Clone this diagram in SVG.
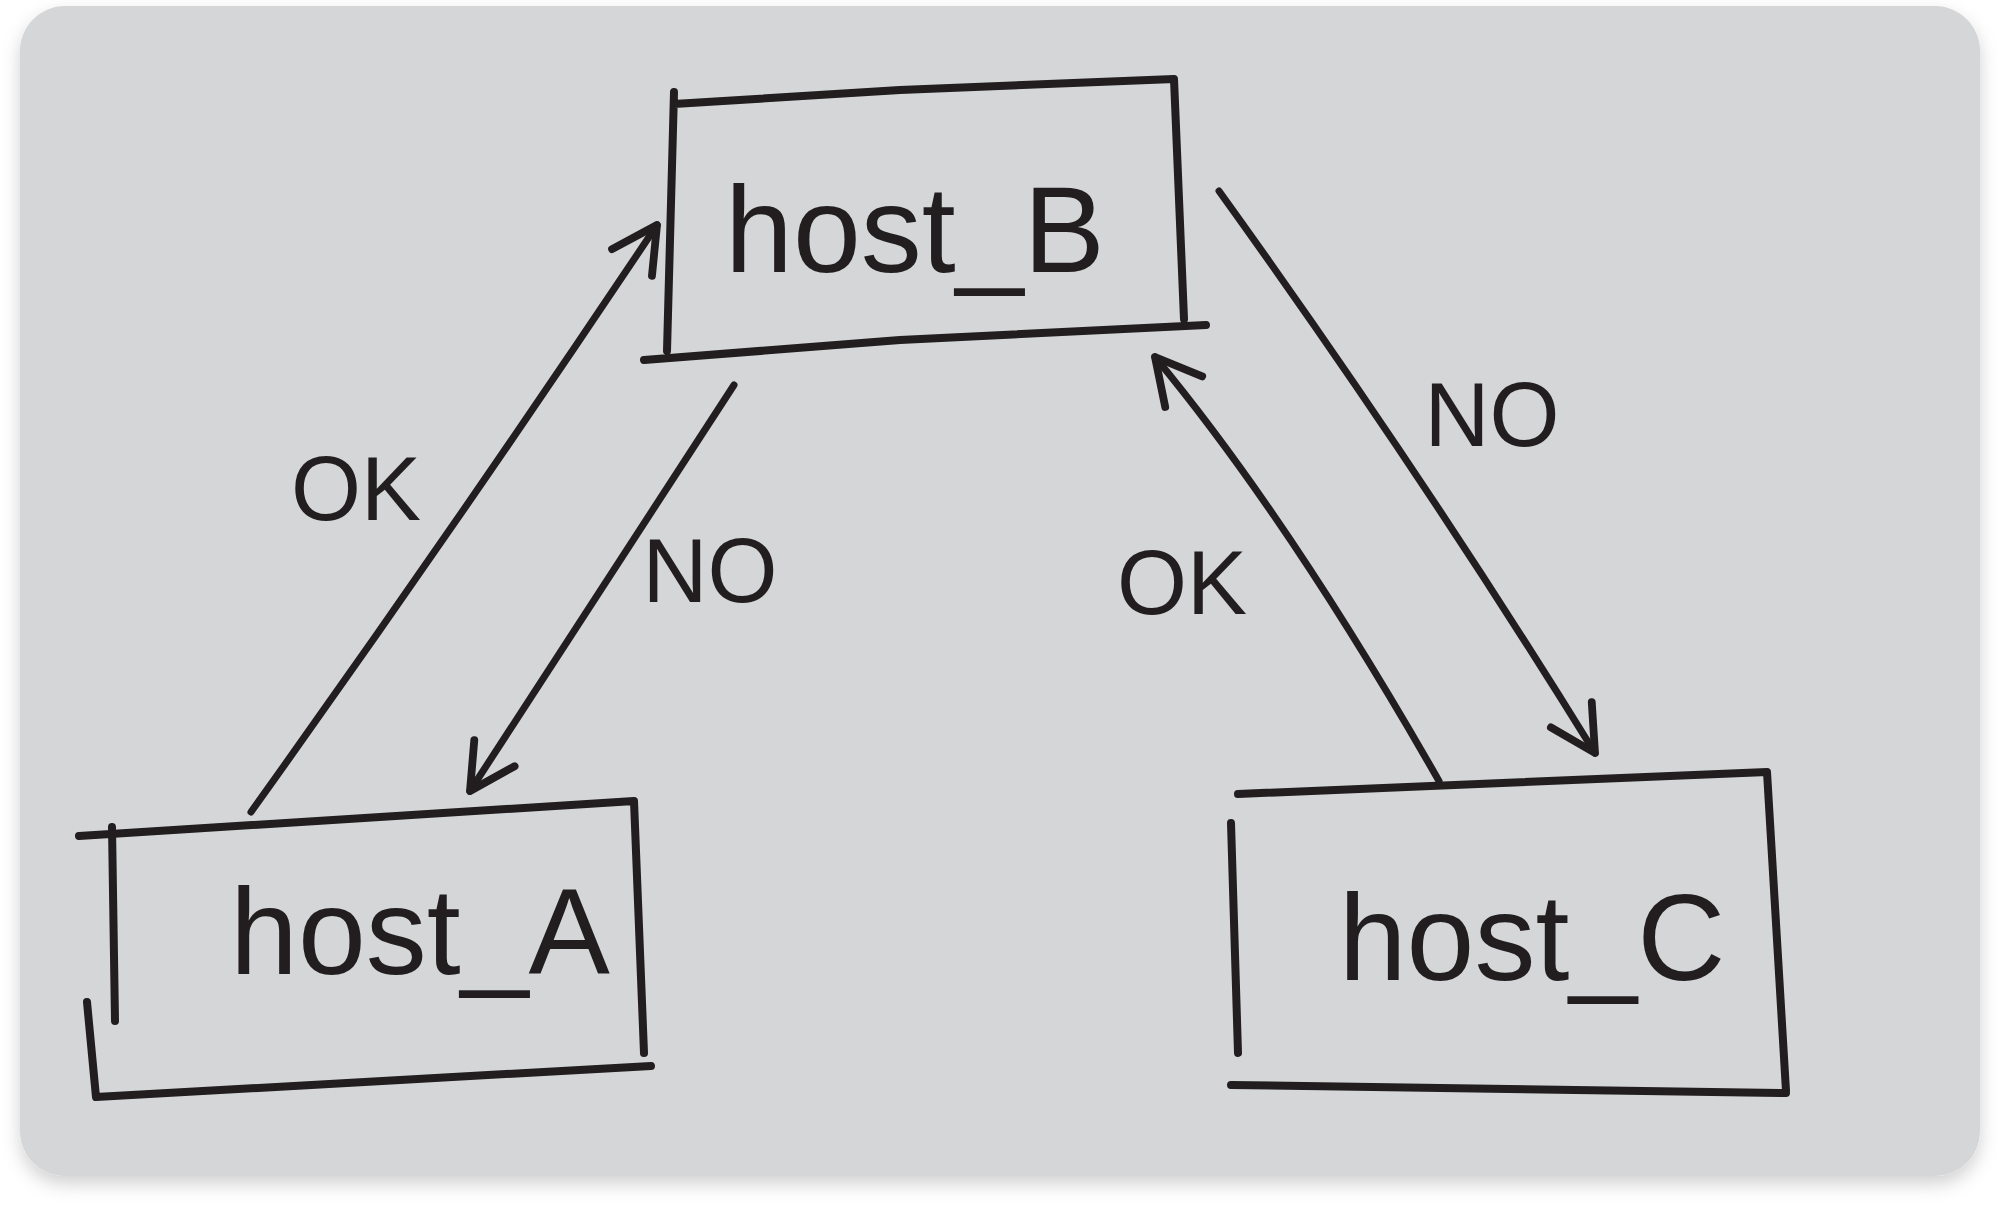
<svg xmlns="http://www.w3.org/2000/svg" width="2001" height="1208" viewBox="0 0 2001 1208">
<defs>
<filter id="sh" x="-5%" y="-5%" width="110%" height="115%"><feDropShadow dx="0" dy="8" stdDeviation="9" flood-color="#000" flood-opacity="0.18"/></filter>
<marker id="ah" viewBox="0 0 20 20" refX="17" refY="10" markerWidth="60" markerHeight="60" markerUnits="userSpaceOnUse" orient="auto">
<path d="M2,2 L17,10 L2,18" fill="none" stroke="#221d1e" stroke-width="2.6" stroke-linecap="round" stroke-linejoin="round"/>
</marker>
<style>
.box{fill:none;stroke:#221d1e;stroke-width:8;stroke-linecap:round;stroke-linejoin:round}
.edge{fill:none;stroke:#221d1e;stroke-width:7;stroke-linecap:round}
.t{font-family:"Liberation Sans",Arial,sans-serif;fill:#221d1e;text-anchor:middle}
.node{font-size:122px}
.lbl{font-size:90px}
</style>
</defs>
<rect width="2001" height="1208" fill="#ffffff"/>
<rect x="20" y="6" width="1960" height="1170" rx="45" fill="#d4d6d8" filter="url(#sh)"/>
<g id="connectors">
<path class="edge" d="M251,812 Q460,520 657,225" marker-end="url(#ah)"/>
<path class="edge" d="M734,385 Q600,590 470,791" marker-end="url(#ah)"/>
<path class="edge" d="M1219,191 Q1420,470 1595,753" marker-end="url(#ah)"/>
<path class="edge" d="M1439,781 Q1290,520 1155,357" marker-end="url(#ah)"/>
<text class="t lbl" x="356" y="520">OK</text>
<text class="t lbl" x="710" y="602">NO</text>
<text class="t lbl" x="1492" y="446">NO</text>
<text class="t lbl" x="1182" y="614">OK</text>
</g>
<g id="host_B">
<path class="box" d="M674,92 L667,351 M674,104 L900,90 L1174,79 L1184,319 M644,360 L900,340 L1206,325"/>
<text class="t node" x="915" y="272">host_B</text>
</g>
<g id="host_A">
<path class="box" d="M79,836 L634,801 L644,1053 M96,1097 L400,1080 L651,1066 M112,827 L115,1021 M87,1002 L96,1097"/>
<text class="t node" x="420" y="974">host_A</text>
</g>
<g id="host_C">
<path class="box" d="M1238,794 L1767,772 L1786,1091 M1231,1085 L1786,1093 M1231,823 L1238,1053"/>
<text class="t node" x="1532" y="980">host_C</text>
</g>
</svg>
